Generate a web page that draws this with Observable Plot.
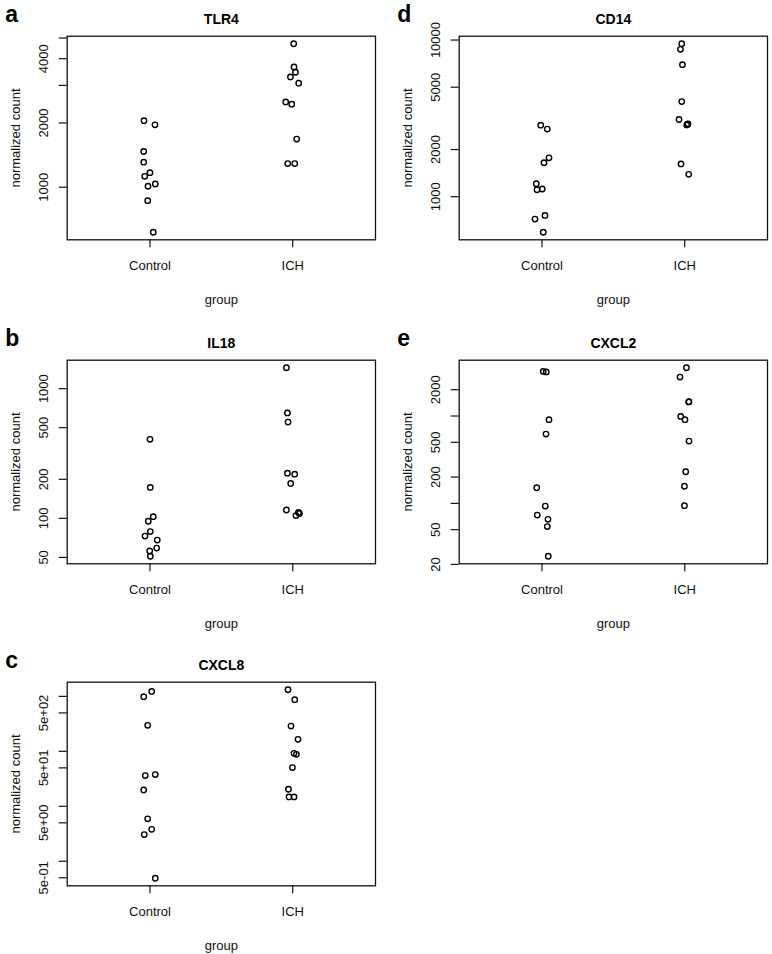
<!DOCTYPE html>
<html>
<head>
<meta charset="utf-8">
<script src="https://cdn.jsdelivr.net/npm/d3@7"></script>
<script src="https://cdn.jsdelivr.net/npm/@observablehq/plot@0.6"></script>
<style>
  body { margin: 0; background: #fff; }
  #chart { position: relative; width: 772px; height: 954px; background: #fff; overflow: hidden; }
  #chart > svg { position: absolute; }
</style>
</head>
<body>
<div id="chart"></div>
<script>
const groups = ["Control", "ICH"];
const yLabel = "normalized count";
const xLabel = "group";

// TLR4
const tlr4Control = [2050, 1960, 1470, 1310, 1170, 1125, 1035, 1010, 865, 615];
const tlr4ControlJitter = [-0.042, 0.035, -0.044, -0.044, 0.000, -0.037, 0.037, -0.014, -0.016, 0.023];
const tlr4ICH = [4700, 3660, 3455, 3285, 3070, 2510, 2450, 1680, 1290, 1290];
const tlr4ICHJitter = [0.007, 0.009, 0.019, -0.016, 0.042, -0.049, -0.007, 0.028, -0.035, 0.014];
const tlr4Ticks = [1000, 2000, 3000, 4000, 5000];
const tlr4TickLabelValues = [1000, 2000, 4000];
const tlr4TickLabels = ["1000", "2000", "4000"];

// IL18
const il18Control = [407, 173, 103, 95, 79, 73, 68, 59, 56, 51];
const il18ControlJitter = [0.000, 0.002, 0.023, -0.012, 0.002, -0.035, 0.051, 0.047, -0.002, 0.002];
const il18ICH = [1450, 650, 553, 223, 219, 186, 116, 105, 109, 111];
const il18ICHJitter = [-0.044, -0.037, -0.033, -0.037, 0.014, -0.014, -0.044, 0.023, 0.047, 0.040];
const il18Ticks = [50, 100, 200, 500, 1000];
const il18TickLabelValues = [50, 100, 200, 500, 1000];
const il18TickLabels = ["50", "100", "200", "500", "1000"];

// CXCL8
const cxcl8Control = [987, 1230, 297, 36.2, 37.7, 19.8, 5.9, 3.8, 3.06, 0.49];
const cxcl8ControlJitter = [-0.044, 0.012, -0.016, -0.033, 0.037, -0.044, -0.016, 0.012, -0.040, 0.037];
const cxcl8ICH = [1320, 871, 288, 165, 92, 88, 50.6, 20.4, 14.8, 14.8];
const cxcl8ICHJitter = [-0.033, 0.014, -0.012, 0.037, 0.009, 0.026, -0.002, -0.030, -0.026, 0.009];
const cxcl8Ticks = [0.5, 1, 5, 10, 50, 100, 500, 1000];
const cxcl8TickLabelValues = [0.5, 5, 50, 500];
const cxcl8TickLabels = ["5e-01", "5e+00", "5e+01", "5e+02"];

// CD14
const cd14Control = [2860, 2700, 1770, 1650, 1210, 1108, 1120, 760, 720, 593];
const cd14ControlJitter = [-0.009, 0.037, 0.049, 0.014, -0.040, -0.035, 0.002, 0.021, -0.049, 0.009];
const cd14ICH = [9470, 8720, 6960, 4050, 3110, 2920, 2870, 2890, 1620, 1390];
const cd14ICHJitter = [-0.021, -0.030, -0.016, -0.021, -0.040, 0.023, 0.014, 0.019, -0.026, 0.028];
const cd14Ticks = [1000, 2000, 5000, 10000];
const cd14TickLabelValues = [1000, 2000, 5000, 10000];
const cd14TickLabels = ["1000", "2000", "5000", "10000"];

// CXCL2
const cxcl2Control = [3240, 3200, 907, 621, 151, 93, 73.5, 65.6, 54.2, 24.8];
const cxcl2ControlJitter = [0.009, 0.030, 0.049, 0.028, -0.037, 0.023, -0.033, 0.042, 0.037, 0.044];
const cxcl2ICH = [3570, 2790, 1460, 1450, 990, 907, 516, 230, 157, 94];
const cxcl2ICHJitter = [0.012, -0.033, 0.030, 0.028, -0.028, 0.002, 0.030, 0.007, -0.002, -0.002];
const cxcl2Ticks = [20, 50, 100, 200, 500, 1000, 2000];
const cxcl2TickLabelValues = [20, 50, 200, 500, 2000];
const cxcl2TickLabels = ["20", "50", "200", "500", "2000"];

const panels = [
  {letter: "a", title: "TLR4", left: 0, top: 0, ctrl: tlr4Control, ctrlJ: tlr4ControlJitter, ich: tlr4ICH, ichJ: tlr4ICHJitter, ticks: tlr4Ticks, lv: tlr4TickLabelValues, lt: tlr4TickLabels},
  {letter: "b", title: "IL18", left: 0, top: 324.3, ctrl: il18Control, ctrlJ: il18ControlJitter, ich: il18ICH, ichJ: il18ICHJitter, ticks: il18Ticks, lv: il18TickLabelValues, lt: il18TickLabels},
  {letter: "c", title: "CXCL8", left: 0, top: 646, ctrl: cxcl8Control, ctrlJ: cxcl8ControlJitter, ich: cxcl8ICH, ichJ: cxcl8ICHJitter, ticks: cxcl8Ticks, lv: cxcl8TickLabelValues, lt: cxcl8TickLabels},
  {letter: "d", title: "CD14", left: 392, top: 0, ctrl: cd14Control, ctrlJ: cd14ControlJitter, ich: cd14ICH, ichJ: cd14ICHJitter, ticks: cd14Ticks, lv: cd14TickLabelValues, lt: cd14TickLabels},
  {letter: "e", title: "CXCL2", left: 392, top: 324.3, ctrl: cxcl2Control, ctrlJ: cxcl2ControlJitter, ich: cxcl2ICH, ichJ: cxcl2ICHJitter, ticks: cxcl2Ticks, lv: cxcl2TickLabelValues, lt: cxcl2TickLabels}
];

const font = "'Liberation Sans', Arial, Helvetica, sans-serif";
const chart = document.getElementById("chart");

for (const p of panels) {
  const pts = [
    ...p.ctrl.map((v, i) => ({g: 1, j: p.ctrlJ[i], v})),
    ...p.ich.map((v, i) => ({g: 2, j: p.ichJ[i], v}))
  ];
  // R-style 4% extension of the log range
  const lo = Math.log10(d3.min(pts, d => d.v));
  const hi = Math.log10(d3.max(pts, d => d.v));
  const ext = (hi - lo) * 0.04;
  const yDomain = [Math.pow(10, lo - ext), Math.pow(10, hi + ext)];

  const svg = Plot.plot({
    width: 386,
    height: 310,
    marginLeft: 66.7,
    marginRight: 11,
    marginTop: 35.7,
    marginBottom: 70.7,
    style: {fontFamily: font, fontSize: "13px", overflow: "visible", background: "transparent", color: "#000"},
    x: {type: "linear", domain: [0.42, 2.58]},
    y: {type: "log", domain: yDomain},
    marks: [
      Plot.axisY(p.ticks, {tickSize: 8, tickFormat: () => "", label: null, strokeWidth: 1.2, stroke: "#111"}),
      Plot.axisX([1, 2], {tickSize: 8, tickFormat: () => "", label: null, strokeWidth: 1.2, stroke: "#111"}),
      Plot.frame({stroke: "#111", strokeWidth: 1.3}),
      Plot.dot(pts, {x: d => d.g + d.j, y: "v", r: 2.7, stroke: "#000", strokeWidth: 1.4, fill: "none"}),
      Plot.text(p.lv, {y: d => d, text: (d, i) => p.lt[i], frameAnchor: "left", textAnchor: "middle", lineAnchor: "middle", dx: -23, rotate: -90, fontSize: 13, fill: "#111"}),
      Plot.text(groups, {x: (d, i) => i + 1, text: d => d, frameAnchor: "bottom", lineAnchor: "middle", dy: 26, fontSize: 13, fill: "#111"}),
      Plot.text([xLabel], {text: d => d, frameAnchor: "bottom", lineAnchor: "middle", dy: 60, fontSize: 13, fill: "#111"}),
      Plot.text([yLabel], {text: d => d, frameAnchor: "left", textAnchor: "middle", lineAnchor: "middle", dx: -51, rotate: -90, fontSize: 13, fill: "#111"}),
      Plot.text([p.title], {text: d => d, frameAnchor: "top", lineAnchor: "middle", dy: -17, fontSize: 14, fontWeight: "bold", fill: "#000"}),
      Plot.text([p.letter], {text: d => d, frameAnchor: "top-left", dx: -62, dy: -22, textAnchor: "start", lineAnchor: "middle", fontSize: 23, fontWeight: "bold", fill: "#000"})
    ]
  });
  svg.style.left = p.left + "px";
  svg.style.top = p.top + "px";
  chart.appendChild(svg);
}
</script>
</body>
</html>
